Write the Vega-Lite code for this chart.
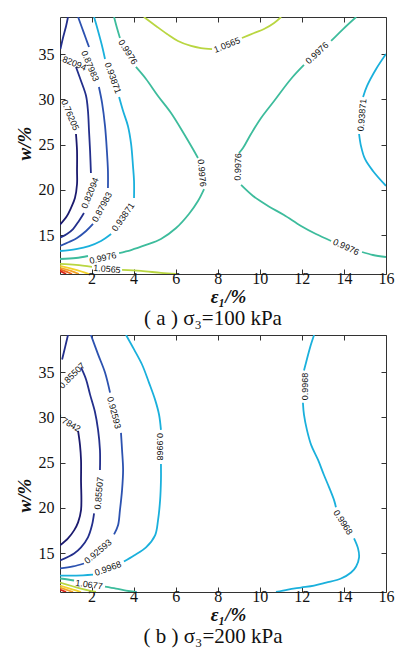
{
  "$schema": "https://vega.github.io/schema/vega-lite/v6.json",
  "background": "white",
  "padding": {"left": 14, "top": 16, "right": 10, "bottom": 2},
  "config": {
    "view": {"stroke": "#333", "strokeWidth": 1},
    "axis": {"grid": false, "domain": false, "tickColor": "#333", "labelFont": "Liberation Serif", "labelFontSize": 16, "labelColor": "#111", "labelFlush": false, "labelOverlap": false, "titleFont": "Liberation Serif", "titleFontSize": 19, "titleFontStyle": "italic", "titleFontWeight": "bold", "titleColor": "#111"},
    "title": {"font": "Liberation Serif", "fontSize": 21, "fontWeight": "normal", "color": "#111", "orient": "bottom", "anchor": "middle"}
  },
  "datasets": {
    "a_lines": [
      {"seg":"a1","level":0.76205,"x":1.26,"y":26.17},{"seg":"a1","level":0.76205,"x":1.31,"y":24.29},{"seg":"a1","level":0.76205,"x":1.31,"y":22.08},{"seg":"a1","level":0.76205,"x":1.31,"y":20.65},{"seg":"a1","level":0.76205,"x":1.21,"y":19.10},{"seg":"a1","level":0.76205,"x":1.02,"y":17.99},{"seg":"a1","level":0.76205,"x":0.83,"y":17.11},{"seg":"a1","level":0.76205,"x":0.5,"y":16.15},
      {"seg":"a2a","level":0.82094,"x":0.88,"y":39.1},{"seg":"a2a","level":0.82094,"x":0.79,"y":38.11},{"seg":"a2a","level":0.82094,"x":0.64,"y":36.78},{"seg":"a2a","level":0.82094,"x":0.52,"y":35.56},
      {"seg":"a2b","level":0.82094,"x":1.26,"y":33.58},{"seg":"a2b","level":0.82094,"x":1.50,"y":32.03},{"seg":"a2b","level":0.82094,"x":1.74,"y":30.37},{"seg":"a2b","level":0.82094,"x":1.83,"y":28.71},{"seg":"a2b","level":0.82094,"x":1.88,"y":26.50},{"seg":"a2b","level":0.82094,"x":1.93,"y":24.29},{"seg":"a2b","level":0.82094,"x":1.97,"y":21.86},
      {"seg":"a2c","level":0.82094,"x":1.64,"y":17.44},{"seg":"a2c","level":0.82094,"x":1.40,"y":16.56},{"seg":"a2c","level":0.82094,"x":1.12,"y":15.67},{"seg":"a2c","level":0.82094,"x":0.83,"y":15.12},{"seg":"a2c","level":0.82094,"x":0.5,"y":14.7},
      {"seg":"a3a","level":0.87983,"x":1.36,"y":39.1},{"seg":"a3a","level":0.87983,"x":1.55,"y":37.88},{"seg":"a3a","level":0.87983,"x":1.74,"y":36.67},{"seg":"a3a","level":0.87983,"x":1.88,"y":35.78},
      {"seg":"a3b","level":0.87983,"x":2.35,"y":31.36},{"seg":"a3b","level":0.87983,"x":2.50,"y":29.6},{"seg":"a3b","level":0.87983,"x":2.64,"y":27.06},{"seg":"a3b","level":0.87983,"x":2.73,"y":24.29},{"seg":"a3b","level":0.87983,"x":2.78,"y":22.08},{"seg":"a3b","level":0.87983,"x":2.78,"y":20.20},
      {"seg":"a3c","level":0.87983,"x":2.07,"y":16.23},{"seg":"a3c","level":0.87983,"x":1.74,"y":15.45},{"seg":"a3c","level":0.87983,"x":1.31,"y":14.68},{"seg":"a3c","level":0.87983,"x":0.93,"y":14.24},{"seg":"a3c","level":0.87983,"x":0.5,"y":13.8},
      {"seg":"a4a","level":0.93871,"x":2.12,"y":39.1},{"seg":"a4a","level":0.93871,"x":2.31,"y":37.55},{"seg":"a4a","level":0.93871,"x":2.50,"y":35.90},{"seg":"a4a","level":0.93871,"x":2.64,"y":34.46},
      {"seg":"a4b","level":0.93871,"x":3.31,"y":30.26},{"seg":"a4b","level":0.93871,"x":3.50,"y":28.71},{"seg":"a4b","level":0.93871,"x":3.73,"y":27.06},{"seg":"a4b","level":0.93871,"x":3.88,"y":25.07},{"seg":"a4b","level":0.93871,"x":3.97,"y":22.64},{"seg":"a4b","level":0.93871,"x":4.02,"y":20.98},{"seg":"a4b","level":0.93871,"x":4.02,"y":19.10},
      {"seg":"a4c","level":0.93871,"x":2.93,"y":15.12},{"seg":"a4c","level":0.93871,"x":2.45,"y":14.35},{"seg":"a4c","level":0.93871,"x":1.88,"y":13.79},{"seg":"a4c","level":0.93871,"x":1.26,"y":13.46},{"seg":"a4c","level":0.93871,"x":0.5,"y":13.24},
      {"seg":"a5a","level":0.9976,"x":3.07,"y":39.1},{"seg":"a5a","level":0.9976,"x":3.21,"y":37.88},{"seg":"a5a","level":0.9976,"x":3.35,"y":36.78},
      {"seg":"a5b","level":0.9976,"x":4.11,"y":33.58},{"seg":"a5b","level":0.9976,"x":4.59,"y":32.25},{"seg":"a5b","level":0.9976,"x":5.16,"y":30.37},{"seg":"a5b","level":0.9976,"x":5.78,"y":28.49},{"seg":"a5b","level":0.9976,"x":6.40,"y":26.17},{"seg":"a5b","level":0.9976,"x":6.82,"y":24.51},{"seg":"a5b","level":0.9976,"x":7.06,"y":23.52},
      {"seg":"a5c","level":0.9976,"x":7.35,"y":20.09},{"seg":"a5c","level":0.9976,"x":7.06,"y":18.77},{"seg":"a5c","level":0.9976,"x":6.63,"y":17.33},{"seg":"a5c","level":0.9976,"x":6.02,"y":15.78},{"seg":"a5c","level":0.9976,"x":5.30,"y":14.57},{"seg":"a5c","level":0.9976,"x":4.59,"y":13.91},{"seg":"a5c","level":0.9976,"x":3.88,"y":13.35},{"seg":"a5c","level":0.9976,"x":3.31,"y":13.02},
      {"seg":"a5d","level":0.9976,"x":1.83,"y":12.69},{"seg":"a5d","level":0.9976,"x":1.26,"y":12.47},{"seg":"a5d","level":0.9976,"x":0.5,"y":12.36},
      {"seg":"a6a","level":0.9976,"x":14.58,"y":39.1},{"seg":"a6a","level":0.9976,"x":13.96,"y":37.77},{"seg":"a6a","level":0.9976,"x":13.39,"y":36.45},
      {"seg":"a6b","level":0.9976,"x":12.10,"y":33.80},{"seg":"a6b","level":0.9976,"x":11.48,"y":32.25},{"seg":"a6b","level":0.9976,"x":10.68,"y":29.82},{"seg":"a6b","level":0.9976,"x":10.06,"y":27.94},{"seg":"a6b","level":0.9976,"x":9.58,"y":26.17},{"seg":"a6b","level":0.9976,"x":9.20,"y":24.62},{"seg":"a6b","level":0.9976,"x":9.01,"y":24.07},
      {"seg":"a6c","level":0.9976,"x":9.11,"y":20.54},{"seg":"a6c","level":0.9976,"x":9.68,"y":19.32},{"seg":"a6c","level":0.9976,"x":10.39,"y":18.22},{"seg":"a6c","level":0.9976,"x":11.15,"y":17.22},{"seg":"a6c","level":0.9976,"x":11.96,"y":16.01},{"seg":"a6c","level":0.9976,"x":12.67,"y":15.12},{"seg":"a6c","level":0.9976,"x":13.39,"y":14.35},
      {"seg":"a6d","level":0.9976,"x":14.86,"y":13.13},{"seg":"a6d","level":0.9976,"x":15.38,"y":12.80},{"seg":"a6d","level":0.9976,"x":16.0,"y":12.58},
      {"seg":"a7a","level":0.93871,"x":16.0,"y":35.01},{"seg":"a7a","level":0.93871,"x":15.53,"y":33.35},{"seg":"a7a","level":0.93871,"x":15.10,"y":31.48},{"seg":"a7a","level":0.93871,"x":14.91,"y":30.26},
      {"seg":"a7b","level":0.93871,"x":14.72,"y":26.17},{"seg":"a7b","level":0.93871,"x":14.81,"y":24.85},{"seg":"a7b","level":0.93871,"x":15.00,"y":23.41},{"seg":"a7b","level":0.93871,"x":15.38,"y":22.08},{"seg":"a7b","level":0.93871,"x":16.0,"y":20.43},
      {"seg":"a8a","level":1.0565,"x":4.49,"y":39.1},{"seg":"a8a","level":1.0565,"x":5.06,"y":38.11},{"seg":"a8a","level":1.0565,"x":5.59,"y":37.22},{"seg":"a8a","level":1.0565,"x":6.11,"y":36.45},{"seg":"a8a","level":1.0565,"x":6.73,"y":35.90},{"seg":"a8a","level":1.0565,"x":7.20,"y":35.67},{"seg":"a8a","level":1.0565,"x":7.73,"y":35.56},
      {"seg":"a8b","level":1.0565,"x":9.15,"y":36.78},{"seg":"a8b","level":1.0565,"x":9.73,"y":37.33},{"seg":"a8b","level":1.0565,"x":10.20,"y":37.77},{"seg":"a8b","level":1.0565,"x":10.68,"y":38.44},{"seg":"a8b","level":1.0565,"x":11.01,"y":39.1},
      {"seg":"a9a","level":1.0565,"x":0.5,"y":11.81},{"seg":"a9a","level":1.0565,"x":1.26,"y":11.70},{"seg":"a9a","level":1.0565,"x":2.02,"y":11.48},
      {"seg":"a9b","level":1.0565,"x":3.45,"y":11.15},{"seg":"a9b","level":1.0565,"x":4.35,"y":11.04},{"seg":"a9b","level":1.0565,"x":5.30,"y":10.82},{"seg":"a9b","level":1.0565,"x":6.02,"y":10.7},
      {"seg":"a10","level":1.1154,"x":0.5,"y":11.59},{"seg":"a10","level":1.1154,"x":1.26,"y":11.15},{"seg":"a10","level":1.1154,"x":1.88,"y":10.7},
      {"seg":"a11","level":1.1743,"x":0.5,"y":11.37},{"seg":"a11","level":1.1743,"x":1.02,"y":11.04},{"seg":"a11","level":1.1743,"x":1.40,"y":10.7},
      {"seg":"a12","level":1.2332,"x":0.5,"y":11.21},{"seg":"a12","level":1.2332,"x":0.83,"y":10.93},{"seg":"a12","level":1.2332,"x":1.07,"y":10.7},
      {"seg":"a13","level":1.2921,"x":0.5,"y":11.04},{"seg":"a13","level":1.2921,"x":0.79,"y":10.7}
    ],
    "a_labels": [
      {"text":"0.76205","x":0.98,"y":28.27,"angle":67},
      {"text":"0.82094","x":1.02,"y":34.13,"angle":22},
      {"text":"0.87983","x":1.93,"y":33.69,"angle":67},
      {"text":"0.93871","x":3.02,"y":32.36,"angle":70},
      {"text":"0.9976","x":3.73,"y":35.23,"angle":58},
      {"text":"1.0565","x":8.44,"y":36.01,"angle":-22},
      {"text":"0.9976","x":7.25,"y":21.86,"angle":85},
      {"text":"0.9976","x":8.96,"y":22.53,"angle":-88},
      {"text":"0.9976","x":12.72,"y":35.12,"angle":-43},
      {"text":"0.93871","x":14.86,"y":28.27,"angle":-85},
      {"text":"0.9976","x":14.10,"y":13.68,"angle":25},
      {"text":"0.82094","x":1.93,"y":19.65,"angle":-68},
      {"text":"0.87983","x":2.50,"y":18.10,"angle":-62},
      {"text":"0.93871","x":3.50,"y":17.00,"angle":-55},
      {"text":"0.9976","x":2.54,"y":12.47,"angle":-13},
      {"text":"1.0565","x":2.73,"y":11.26,"angle":5}
    ],
    "b_lines": [
      {"seg":"b1","level":0.7842,"x":1.36,"y":28.51},{"seg":"b1","level":0.7842,"x":1.45,"y":26.96},{"seg":"b1","level":0.7842,"x":1.50,"y":25.29},{"seg":"b1","level":0.7842,"x":1.50,"y":23.07},{"seg":"b1","level":0.7842,"x":1.50,"y":19.74},{"seg":"b1","level":0.7842,"x":1.36,"y":18.40},{"seg":"b1","level":0.7842,"x":1.17,"y":17.51},{"seg":"b1","level":0.7842,"x":0.88,"y":16.63},{"seg":"b1","level":0.7842,"x":0.5,"y":15.85},
      {"seg":"b2a","level":0.85507,"x":0.88,"y":39.1},{"seg":"b2a","level":0.85507,"x":0.74,"y":37.73},{"seg":"b2a","level":0.85507,"x":0.60,"y":36.40},
      {"seg":"b2b","level":0.85507,"x":1.50,"y":35.51},{"seg":"b2b","level":0.85507,"x":1.74,"y":34.18},{"seg":"b2b","level":0.85507,"x":1.93,"y":32.51},{"seg":"b2b","level":0.85507,"x":2.16,"y":30.62},{"seg":"b2b","level":0.85507,"x":2.31,"y":28.62},{"seg":"b2b","level":0.85507,"x":2.40,"y":26.40},{"seg":"b2b","level":0.85507,"x":2.40,"y":24.18},
      {"seg":"b2c","level":0.85507,"x":2.12,"y":19.40},{"seg":"b2c","level":0.85507,"x":2.02,"y":18.07},{"seg":"b2c","level":0.85507,"x":1.83,"y":16.74},{"seg":"b2c","level":0.85507,"x":1.50,"y":15.63},{"seg":"b2c","level":0.85507,"x":1.17,"y":14.96},{"seg":"b2c","level":0.85507,"x":0.5,"y":14.19},
      {"seg":"b3a","level":0.92593,"x":1.97,"y":39.1},{"seg":"b3a","level":0.92593,"x":2.31,"y":36.96},{"seg":"b3a","level":0.92593,"x":2.64,"y":34.96},{"seg":"b3a","level":0.92593,"x":2.88,"y":32.73},
      {"seg":"b3b","level":0.92593,"x":3.40,"y":28.29},{"seg":"b3b","level":0.92593,"x":3.45,"y":26.40},{"seg":"b3b","level":0.92593,"x":3.50,"y":24.18},{"seg":"b3b","level":0.92593,"x":3.45,"y":21.96},{"seg":"b3b","level":0.92593,"x":3.35,"y":19.74},{"seg":"b3b","level":0.92593,"x":3.26,"y":18.07},{"seg":"b3b","level":0.92593,"x":3.07,"y":17.07},
      {"seg":"b3c","level":0.92593,"x":1.64,"y":13.85},{"seg":"b3c","level":0.92593,"x":1.12,"y":13.52},{"seg":"b3c","level":0.92593,"x":0.5,"y":13.30},
      {"seg":"b4a","level":0.9968,"x":3.64,"y":39.1},{"seg":"b4a","level":0.9968,"x":4.02,"y":37.51},{"seg":"b4a","level":0.9968,"x":4.40,"y":35.84},{"seg":"b4a","level":0.9968,"x":4.73,"y":33.84},{"seg":"b4a","level":0.9968,"x":5.02,"y":31.96},{"seg":"b4a","level":0.9968,"x":5.21,"y":30.29},{"seg":"b4a","level":0.9968,"x":5.30,"y":28.62},
      {"seg":"b4b","level":0.9968,"x":5.30,"y":24.84},{"seg":"b4b","level":0.9968,"x":5.30,"y":23.07},{"seg":"b4b","level":0.9968,"x":5.26,"y":20.85},{"seg":"b4b","level":0.9968,"x":5.16,"y":18.62},{"seg":"b4b","level":0.9968,"x":5.02,"y":16.96},{"seg":"b4b","level":0.9968,"x":4.59,"y":15.63},{"seg":"b4b","level":0.9968,"x":4.02,"y":14.74},{"seg":"b4b","level":0.9968,"x":3.54,"y":14.07},
      {"seg":"b4c","level":0.9968,"x":2.07,"y":12.63},{"seg":"b4c","level":0.9968,"x":1.26,"y":12.52},{"seg":"b4c","level":0.9968,"x":0.5,"y":12.52},
      {"seg":"b5a","level":1.0677,"x":0.5,"y":12.19},{"seg":"b5a","level":1.0677,"x":0.88,"y":12.08},{"seg":"b5a","level":1.0677,"x":1.17,"y":11.97},
      {"seg":"b5b","level":1.0677,"x":2.64,"y":11.30},{"seg":"b5b","level":1.0677,"x":3.16,"y":11.08},{"seg":"b5b","level":1.0677,"x":3.64,"y":10.85},{"seg":"b5b","level":1.0677,"x":4.11,"y":10.7},
      {"seg":"b6","level":1.1385,"x":0.5,"y":11.74},{"seg":"b6","level":1.1385,"x":1.50,"y":11.08},{"seg":"b6","level":1.1385,"x":2.21,"y":10.7},
      {"seg":"b7","level":1.2094,"x":0.5,"y":11.41},{"seg":"b7","level":1.2094,"x":1.12,"y":10.97},{"seg":"b7","level":1.2094,"x":1.50,"y":10.7},
      {"seg":"b8","level":1.2802,"x":0.5,"y":11.19},{"seg":"b8","level":1.2802,"x":1.12,"y":10.7},
      {"seg":"b9","level":1.3511,"x":0.5,"y":10.97},{"seg":"b9","level":1.3511,"x":0.79,"y":10.7},
      {"seg":"b10a","level":0.9968,"x":12.58,"y":39.1},{"seg":"b10a","level":0.9968,"x":12.39,"y":37.73},{"seg":"b10a","level":0.9968,"x":12.20,"y":36.07},{"seg":"b10a","level":0.9968,"x":12.10,"y":35.18},
      {"seg":"b10b","level":0.9968,"x":12.05,"y":31.62},{"seg":"b10b","level":0.9968,"x":12.10,"y":30.29},{"seg":"b10b","level":0.9968,"x":12.24,"y":28.62},{"seg":"b10b","level":0.9968,"x":12.44,"y":26.96},{"seg":"b10b","level":0.9968,"x":12.77,"y":25.29},{"seg":"b10b","level":0.9968,"x":13.05,"y":23.63},{"seg":"b10b","level":0.9968,"x":13.29,"y":22.29},{"seg":"b10b","level":0.9968,"x":13.53,"y":20.85},{"seg":"b10b","level":0.9968,"x":13.62,"y":20.07},
      {"seg":"b10c","level":0.9968,"x":14.48,"y":16.63},{"seg":"b10c","level":0.9968,"x":14.67,"y":15.52},{"seg":"b10c","level":0.9968,"x":14.72,"y":14.52},{"seg":"b10c","level":0.9968,"x":14.58,"y":13.52},{"seg":"b10c","level":0.9968,"x":14.34,"y":12.85},{"seg":"b10c","level":0.9968,"x":13.86,"y":12.19},{"seg":"b10c","level":0.9968,"x":13.15,"y":11.74},{"seg":"b10c","level":0.9968,"x":12.58,"y":11.41},{"seg":"b10c","level":0.9968,"x":11.96,"y":11.19},{"seg":"b10c","level":0.9968,"x":11.34,"y":10.97},{"seg":"b10c","level":0.9968,"x":10.77,"y":10.7}
    ],
    "b_labels": [
      {"text":"0.85507","x":1.07,"y":34.62,"angle":-45},
      {"text":"0.7842","x":0.88,"y":29.40,"angle":30},
      {"text":"0.92593","x":3.07,"y":30.51,"angle":75},
      {"text":"0.9968","x":5.26,"y":26.74,"angle":90},
      {"text":"0.85507","x":2.35,"y":21.62,"angle":-85},
      {"text":"0.92593","x":2.31,"y":15.18,"angle":-40},
      {"text":"0.9968","x":2.78,"y":13.30,"angle":-20},
      {"text":"1.0677","x":1.88,"y":11.52,"angle":8},
      {"text":"0.9968","x":12.15,"y":33.40,"angle":-90},
      {"text":"0.9968","x":13.96,"y":18.40,"angle":57}
    ]
  },
  "spacing": 4,
  "resolve": {"scale": {"color": "independent"}},
  "vconcat": [
    {
      "width": 326, "height": 257,
      "title": {"text": "( a )  σ₃=100 kPa", "offset": 2, "dx": -10},
      "resolve": {"axis": {"x": "independent", "y": "independent"}},
      "layer": [
        {
          "data": {"name": "a_lines"},
          "mark": {"type": "line", "clip": true, "strokeWidth": 1.8, "interpolate": "catmull-rom"},
          "encoding": {
            "x": {"field": "x", "type": "quantitative", "scale": {"domain": [0.5, 16], "nice": false, "zero": false},
                  "axis": {"orient": "bottom", "values": [2,4,6,8,10,12,14,16], "tickSize": -5, "labelPadding": 1, "labelFont": "Liberation Serif", "labelFontSize": 16, "title": "ε₁/%", "titleFont": "Liberation Serif", "titlePadding": 1, "titleX": 168}},
            "y": {"field": "y", "type": "quantitative", "scale": {"domain": [10.7, 39.1], "nice": false, "zero": false},
                  "axis": {"orient": "left", "values": [15,20,25,30,35], "tickSize": -5, "labelPadding": 11, "labelFont": "Liberation Serif", "labelFontSize": 16, "title": "w/%", "titleFont": "Liberation Serif", "titlePadding": 4, "titleY": 126}},
            "color": {"field": "level", "type": "nominal", "legend": null,
                      "scale": {"domain": [0.76205,0.82094,0.87983,0.93871,0.9976,1.0565,1.1154,1.1743,1.2332,1.2921],
                                "range": ["#1b1a6e","#232f8c","#2c52b0","#1ab0dc","#3dbc9c","#b9d641","#f2d22a","#f4a326","#ee6a1e","#d9261c"]}},
            "detail": {"field": "seg"},
            "order": {"value": null}
          }
        },
        {
          "data": {"name": "a_labels"},
          "mark": {"type": "text", "clip": true, "font": "Liberation Sans", "fontSize": 9, "color": "#111", "align": "center", "baseline": "middle"},
          "encoding": {
            "x": {"field": "x", "type": "quantitative", "scale": {"domain": [0.5, 16], "nice": false, "zero": false},
                  "axis": {"orient": "top", "values": [2,4,6,8,10,12,14,16], "tickSize": -5, "labels": false, "title": null}},
            "y": {"field": "y", "type": "quantitative", "scale": {"domain": [10.7, 39.1], "nice": false, "zero": false},
                  "axis": {"orient": "right", "values": [15,20,25,30,35], "tickSize": -5, "labels": false, "title": null}},
            "text": {"field": "text"},
            "angle": {"field": "angle", "type": "quantitative", "scale": null}
          }
        }
      ]
    },
    {
      "width": 326, "height": 257,
      "title": {"text": "( b )  σ₃=200 kPa", "offset": 2, "dx": -10},
      "resolve": {"axis": {"x": "independent", "y": "independent"}},
      "layer": [
        {
          "data": {"name": "b_lines"},
          "mark": {"type": "line", "clip": true, "strokeWidth": 1.8, "interpolate": "catmull-rom"},
          "encoding": {
            "x": {"field": "x", "type": "quantitative", "scale": {"domain": [0.5, 16], "nice": false, "zero": false},
                  "axis": {"orient": "bottom", "values": [2,4,6,8,10,12,14,16], "tickSize": -5, "labelPadding": 1, "labelFont": "Liberation Serif", "labelFontSize": 16, "title": "ε₁/%", "titleFont": "Liberation Serif", "titlePadding": 1, "titleX": 168}},
            "y": {"field": "y", "type": "quantitative", "scale": {"domain": [10.7, 39.1], "nice": false, "zero": false},
                  "axis": {"orient": "left", "values": [15,20,25,30,35], "tickSize": -5, "labelPadding": 11, "labelFont": "Liberation Serif", "labelFontSize": 16, "title": "w/%", "titleFont": "Liberation Serif", "titlePadding": 4, "titleY": 160}},
            "color": {"field": "level", "type": "nominal", "legend": null,
                      "scale": {"domain": [0.7842,0.85507,0.92593,0.9968,1.0677,1.1385,1.2094,1.2802,1.3511],
                                "range": ["#1b1a6e","#232f8c","#2c52b0","#1ab0dc","#3dbc9c","#b9d641","#f2d22a","#f4a326","#d9261c"]}},
            "detail": {"field": "seg"},
            "order": {"value": null}
          }
        },
        {
          "data": {"name": "b_labels"},
          "mark": {"type": "text", "clip": true, "font": "Liberation Sans", "fontSize": 9, "color": "#111", "align": "center", "baseline": "middle"},
          "encoding": {
            "x": {"field": "x", "type": "quantitative", "scale": {"domain": [0.5, 16], "nice": false, "zero": false},
                  "axis": {"orient": "top", "values": [2,4,6,8,10,12,14,16], "tickSize": -5, "labels": false, "title": null}},
            "y": {"field": "y", "type": "quantitative", "scale": {"domain": [10.7, 39.1], "nice": false, "zero": false},
                  "axis": {"orient": "right", "values": [15,20,25,30,35], "tickSize": -5, "labels": false, "title": null}},
            "text": {"field": "text"},
            "angle": {"field": "angle", "type": "quantitative", "scale": null}
          }
        }
      ]
    }
  ]
}
